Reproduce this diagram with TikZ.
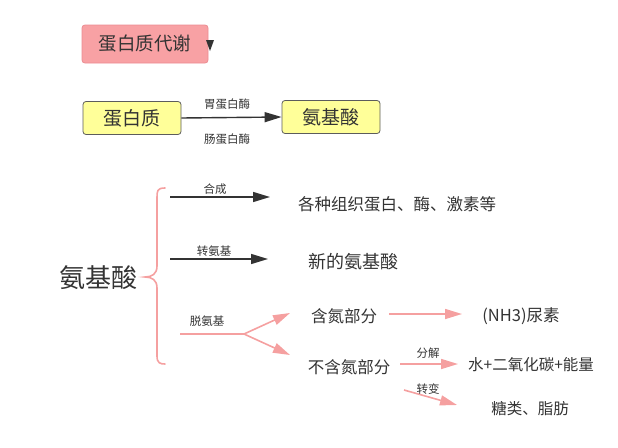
\documentclass[tikz,border=0pt]{standalone}
\usepackage{fontspec}
\setmainfont{Noto Sans CJK SC}
\usetikzlibrary{arrows.meta}
\definecolor{txt}{HTML}{333333}
\definecolor{pinkline}{HTML}{F5A0A0}
\definecolor{titlefill}{HTML}{F8A1A4}
\definecolor{titledraw}{HTML}{EC8C92}
\definecolor{yellowfill}{HTML}{FFFF99}
\tikzset{
  every node/.style={text=txt, inner sep=0pt},
  lbl/.style={font=\fontsize{11.5}{12}\selectfont},
  item/.style={font=\fontsize{16.5}{18}\selectfont},
  ybox/.style={draw=txt!80, fill=yellowfill, rounded corners=3pt, line width=0.8pt, minimum width=98pt, minimum height=33pt, font=\fontsize{19}{20}\selectfont},
  darr/.style={draw=txt, line width=1.4pt, -{Triangle[length=17pt,width=10pt]}},
  parr/.style={draw=pinkline, line width=1.6pt, -{Triangle[length=17pt,width=10pt]}},
}
\begin{document}
\begin{tikzpicture}[x=1pt,y=-1pt]
\useasboundingbox (0,0) rectangle (618,447);
% title
\node[draw=titledraw, fill=titlefill, rounded corners=3pt, line width=0.8pt, minimum width=126pt, minimum height=38pt, font=\fontsize{18.5}{20}\selectfont] (title) at (145,44) {蛋白质代谢};
\fill[txt] (206,40) -- (214,40) -- (210,51) -- cycle;
% first row
\node[ybox] (prot) at (132,118) {蛋白质};
\node[ybox] (amino) at (331,117) {氨基酸};
\draw[darr] (prot.east) -- (amino.west);
\node[lbl] (e1a) at (227,104) {胃蛋白酶};
\node[lbl] (e1b) at (227,139) {肠蛋白酶};
% big amino
\node[font=\fontsize{26}{28}\selectfont] (big) at (98,278) {氨基酸};
% brace
\draw[pinkline, line width=1.6pt, line cap=round] (165,188) .. controls (157,188) and (157,191) .. (157,198) -- (157,266) .. controls (157,274) and (152,277) .. (145,277) .. controls (152,277) and (157,280) .. (157,288) -- (157,356) .. controls (157,363) and (160,364) .. (165,364);
% 合成
\coordinate (s1) at (170,197);
\coordinate (e1) at (270,197);
\draw[darr] (s1) -- (e1);
\node[lbl] (l1) at (215,189) {合成};
\node[item] (t1) at (397,204) {各种组织蛋白、酶、激素等};
% 转氨基
\coordinate (s2) at (170,259);
\coordinate (e2) at (268,259);
\draw[darr] (s2) -- (e2);
\node[lbl] (l2) at (214,251) {转氨基};
\node[font=\fontsize{18}{20}\selectfont] (t2) at (353,262) {新的氨基酸};
% 脱氨基
\coordinate (s3) at (180,334);
\coordinate (m3) at (244,334);
\coordinate (u3) at (290,313);
\coordinate (d3) at (290,355);
\node[lbl] (l3) at (207,321) {脱氨基};
\draw[pinkline, line width=1.6pt] (s3) -- (m3);
\draw[parr] (m3) -- (u3);
\draw[parr] (m3) -- (d3);
\node[item] (n1) at (344,316) {含氮部分};
\node[item] (n2) at (349,367) {不含氮部分};
\coordinate (a1) at (389,314);
\coordinate (b1) at (462,314);
\draw[parr] (a1) -- (b1);
\node[item] (r1) at (521,316) {(NH3)尿素};
\coordinate (a2) at (400,364);
\coordinate (b2) at (458,364);
\draw[parr] (a2) -- (b2);
\node[lbl] (l4) at (428,353) {分解};
\node[font=\fontsize{15.5}{17}\selectfont] (r2) at (531,365) {水+二氧化碳+能量};
\coordinate (a3) at (404,390);
\coordinate (b3) at (457,405);
\draw[parr] (a3) -- (b3);
\node[lbl] (l5) at (428,389) {转变};
\node[font=\fontsize{15.5}{17}\selectfont] (r3) at (530,409) {糖类、脂肪};
\end{tikzpicture}
\end{document}
